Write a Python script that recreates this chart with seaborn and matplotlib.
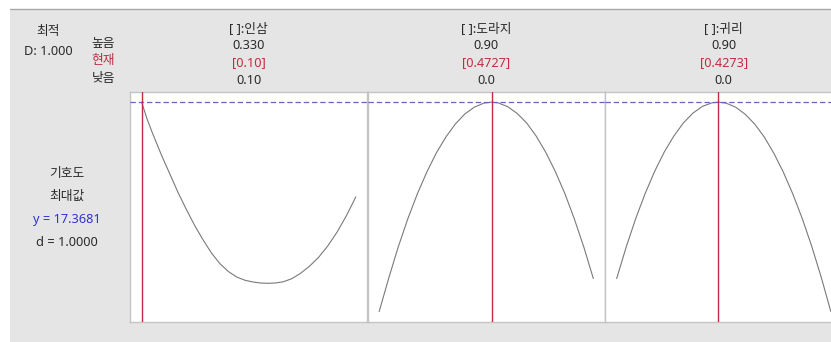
import matplotlib
matplotlib.use("Agg")
import matplotlib.pyplot as plt
import seaborn as sns
import pandas as pd
from matplotlib.patches import Rectangle
from matplotlib.lines import Line2D

# ---- data -------------------------------------------------------------
components = ["인삼", "도라지", "귀리"]
high_labels = ["0.330", "0.90", "0.90"]
current_labels = ["[0.10]", "[0.4727]", "[0.4273]"]
low_labels = ["0.10", "0.0", "0.0"]
low_values = [0.10, 0.0, 0.0]
high_values = [0.33, 0.90, 0.90]
current_values = [0.10, 0.4727, 0.4273]

optimum_y = 17.3681
optimum_d = 1.0000
composite_D = 1.000

insam_x = [0.100, 0.1058, 0.1116, 0.121, 0.130, 0.139, 0.148, 0.157, 0.166,
           0.175, 0.184, 0.193, 0.202, 0.211, 0.220, 0.228, 0.2356, 0.244,
           0.252, 0.261, 0.270, 0.280, 0.290, 0.300, 0.310, 0.320, 0.330]
insam_y = [17.3681, 16.70, 16.14, 15.29, 14.54, 13.79, 13.11, 12.47, 11.90,
           11.38, 10.96, 10.65, 10.43, 10.30, 10.23, 10.19, 10.18, 10.195,
           10.24, 10.36, 10.56, 10.85, 11.21, 11.67, 12.22, 12.87, 13.61]

doraji_x = [0.00, 0.04, 0.08, 0.12, 0.16, 0.20, 0.24, 0.28, 0.32, 0.36,
            0.40, 0.44, 0.4727, 0.50, 0.54, 0.58, 0.62, 0.66, 0.70, 0.74,
            0.78, 0.82, 0.86, 0.90]
doraji_y = [9.06, 10.38, 11.62, 12.73, 13.72, 14.59, 15.35, 15.98, 16.50,
            16.90, 17.17, 17.33, 17.3681, 17.34, 17.19, 16.92, 16.54, 16.02,
            15.38, 14.62, 13.75, 12.74, 11.62, 10.37]

gwiri_x = [0.00, 0.04, 0.08, 0.12, 0.16, 0.20, 0.24, 0.28, 0.32, 0.36,
           0.40, 0.4273, 0.46, 0.50, 0.54, 0.58, 0.62, 0.66, 0.70, 0.74,
           0.78, 0.82, 0.86, 0.90]
gwiri_y = [10.37, 11.62, 12.75, 13.75, 14.63, 15.39, 16.02, 16.54, 16.93,
           17.20, 17.34, 17.3681, 17.33, 17.17, 16.89, 16.50, 15.99, 15.35,
           14.60, 13.73, 12.75, 11.64, 10.41, 9.06]

curves = [(insam_x, insam_y), (doraji_x, doraji_y), (gwiri_x, gwiri_y)]

# ---- style ------------------------------------------------------------
sns.set_theme(style="white")
plt.rcParams["font.family"] = ["Noto Sans", "Noto Sans CJK KR", "DejaVu Sans"]

W, H = 831, 342
fig = plt.figure(figsize=(W / 100, H / 100), dpi=100, facecolor="white")

BG = "#e5e5e5"
TXT = "#2a2a2a"
RED = "#c02c40"
BLUE_DASH = "#6b63c4"
FRAME = "#c4c4c4"
FS = 9.2

# grey canvas with a thin rule along its top edge
fig.add_artist(Rectangle((10 / W, 0), 1 - 10 / W, 1 - 8.5 / H,
                         transform=fig.transFigure, facecolor=BG,
                         edgecolor="none", zorder=0))
fig.add_artist(Line2D([10 / W, 1], [1 - 8.5 / H, 1 - 8.5 / H],
                      transform=fig.transFigure, color="#a8a8a8", lw=1.0,
                      zorder=1))


def ftext(px, py, s, **kw):
    kw.setdefault("fontsize", FS)
    kw.setdefault("color", TXT)
    fig.text(px / W, 1 - py / H, s, ha="center", va="center", **kw)


# ---- panels -----------------------------------------------------------
panel_left = 130
panel_w = 237.5
panel_top = 91.7
panel_bot = 322.0

all_y = insam_y + doraji_y + gwiri_y
ymin, ymax = min(all_y), max(all_y)
ypad = 0.05 * (ymax - ymin)

for i, (xs, ys) in enumerate(curves):
    left = panel_left + i * panel_w
    ax = fig.add_axes([left / W, 1 - panel_bot / H, panel_w / W,
                       (panel_bot - panel_top) / H])
    ax.set_facecolor("white")
    df = pd.DataFrame({"x": xs, "y": ys})
    sns.lineplot(data=df, x="x", y="y", ax=ax, color="#7a7a7a", lw=0.8,
                 sort=False)
    xpad = 0.0545 * (high_values[i] - low_values[i])
    ax.set_xlim(low_values[i] - xpad, high_values[i] + xpad)
    ax.set_ylim(ymin - ypad, ymax + ypad)
    ax.axhline(optimum_y, color=BLUE_DASH, lw=0.9, dashes=(4.3, 2.3),
               zorder=3)
    ax.axvline(current_values[i], color=RED, lw=1.0, zorder=4)
    ax.set_xticks([])
    ax.set_yticks([])
    ax.set_xlabel("")
    ax.set_ylabel("")
    for sp in ax.spines.values():
        sp.set_visible(True)
        sp.set_color(FRAME)
        sp.set_linewidth(1.0)

    cx = left + panel_w / 2
    ftext(cx, 28.3, "[ ]:" + components[i])
    ftext(cx, 45.7, high_labels[i])
    ftext(cx, 63.0, current_labels[i], color=RED)
    ftext(cx, 81.0, low_labels[i])

# ---- left-hand annotations -------------------------------------------
ftext(48, 31.0, "최적")
ftext(48, 51.5, f"D: {composite_D:.3f}")
ftext(103.5, 43.0, "높음")
ftext(103.5, 60.5, "현재", color=RED)
ftext(103.5, 78.5, "낮음")

ftext(67, 173.0, "기호도")
ftext(67, 196.5, "최대값")
ftext(67, 219.5, f"y = {optimum_y:.4f}", color="#3333cc")
ftext(67, 242.0, f"d = {optimum_d:.4f}")

fig.savefig("out.png", dpi=100, facecolor="white")
